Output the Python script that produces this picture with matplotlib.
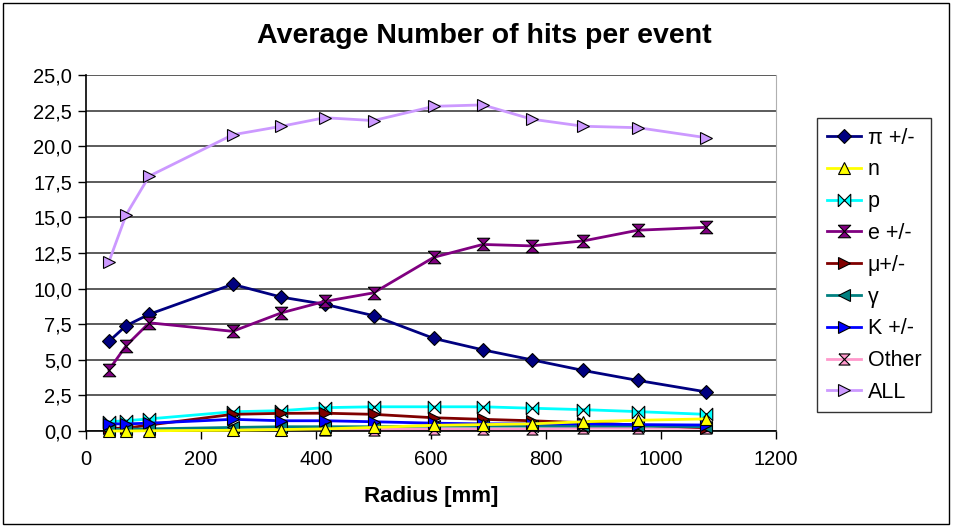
import numpy as np
import matplotlib.pyplot as plt
from matplotlib.patches import Rectangle
from matplotlib.ticker import FuncFormatter, MultipleLocator

plt.rcParams['font.family'] = ['Liberation Sans', 'DejaVu Sans']

# radius of each detector layer [mm]
radius = [40, 70, 110, 255, 340, 415, 500, 605, 690, 775, 865, 960, 1078]

pion = [6.3, 7.4, 8.2, 10.3, 9.4, 8.9, 8.1, 6.5, 5.7, 5.0, 4.25, 3.55, 2.75]
neutron = [0.0, 0.0, 0.02, 0.05, 0.1, 0.15, 0.25, 0.4, 0.45, 0.5, 0.65, 0.75, 0.85]
proton = [0.65, 0.72, 0.85, 1.35, 1.43, 1.64, 1.7, 1.7, 1.7, 1.6, 1.5, 1.36, 1.17]
electron = [4.3, 6.0, 7.6, 7.0, 8.3, 9.1, 9.7, 12.2, 13.1, 13.0, 13.35, 14.1, 14.3]
muon = [0.19, 0.2, 0.42, 1.17, 1.24, 1.25, 1.17, 0.93, 0.82, 0.72, 0.58, 0.42, 0.23]
gamma = [0.1, 0.12, 0.15, 0.25, 0.3, 0.3, 0.3, 0.35, 0.35, 0.35, 0.35, 0.35, 0.3]
kaon = [0.5, 0.5, 0.55, 0.82, 0.72, 0.72, 0.65, 0.55, 0.5, 0.5, 0.5, 0.45, 0.42]
other = [0.05, 0.05, 0.05, 0.1, 0.1, 0.1, 0.1, 0.15, 0.15, 0.15, 0.2, 0.2, 0.2]
total = [11.9, 15.2, 17.9, 20.8, 21.4, 22.0, 21.8, 22.8, 22.9, 21.9, 21.4, 21.3, 20.6]

labels = ['\u03c0 +/-', 'n', 'p', 'e +/-', '\u03bc+/-', '\u03b3', 'K +/-', 'Other', 'ALL']

# bowtie and hourglass shapes like the spreadsheet markers
bowtie = [(-1, -1), (1, 1), (1, -1), (-1, 1), (-1, -1)]
hourglass = [(-1, 1), (1, 1), (-1, -1), (1, -1), (-1, 1)]

series = [
    (pion, '#000080', 'D', 7, 3),
    (neutron, '#FFFF00', '^', 9, 5),
    (proton, '#00FFFF', bowtie, 9, 3),
    (electron, '#800080', hourglass, 9, 3),
    (muon, '#800000', '>', 9, 3),
    (gamma, '#008080', '<', 9, 3),
    (kaon, '#0000FF', '>', 9, 3),
    (other, '#FF99CC', hourglass, 8, 2.5),
    (total, '#CC99FF', '>', 9, 3),
]

fig = plt.figure(figsize=(9.54, 5.27), dpi=100)
ax = fig.add_axes([86 / 954, 1 - 431 / 527, 690 / 954, 356 / 527])

for (vals, col, mk, ms, z), lab in zip(series, labels):
    ax.plot(radius, vals, color=col, lw=2, marker=mk, markersize=ms,
            markerfacecolor=col, markeredgecolor='black', markeredgewidth=0.8,
            label=lab, clip_on=False, zorder=z)

ax.set_xlim(0, 1200)
ax.set_ylim(0, 25)
ax.xaxis.set_major_locator(MultipleLocator(200))
ax.yaxis.set_major_locator(MultipleLocator(2.5))
ax.yaxis.set_major_formatter(FuncFormatter(lambda v, p: ('%.1f' % v).replace('.', ',')))
ax.grid(axis='y', color='#404040', lw=1.2)
ax.set_axisbelow(True)
ax.tick_params(labelsize=14.5, length=6, width=1, direction='out')
ax.tick_params(axis='x', pad=8)
ax.tick_params(axis='y', pad=4)
ax.spines['top'].set_visible(False)
ax.spines['right'].set_color('#b0b0b0')
ax.spines['left'].set_linewidth(1.2)
ax.spines['bottom'].set_linewidth(1.2)

ax.set_xlabel('Radius [mm]', fontsize=16, fontweight='bold', labelpad=12)
fig.text(0.508, 0.932, 'Average Number of hits per event', fontsize=20.5,
         fontweight='bold', ha='center', va='center')

leg = ax.legend(loc='upper left', bbox_to_anchor=(817 / 954, 1 - 118 / 527),
                bbox_transform=fig.transFigure, fontsize=15.5, frameon=True,
                fancybox=False, edgecolor='black', handlelength=1.6,
                handletextpad=0.3, labelspacing=0.5, borderpad=0.45,
                borderaxespad=0)
leg.get_frame().set_linewidth(1)

# outer frame around the whole chart
fig.patches.append(Rectangle((3 / 954, 3 / 527), 946 / 954, 521 / 527,
                             transform=fig.transFigure, fill=False,
                             edgecolor='black', lw=1))

plt.savefig('out.png', dpi=100)
